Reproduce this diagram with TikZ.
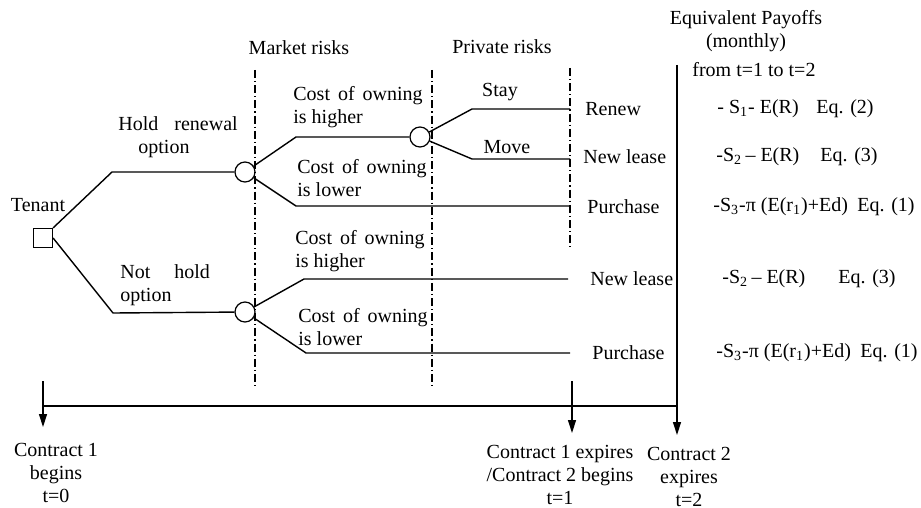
\documentclass[tikz,border=0pt]{standalone}
\usepackage{fontspec}
\setmainfont{Liberation Serif}
\usetikzlibrary{arrows.meta, positioning}

\begin{document}
\begin{tikzpicture}[
    x=0.5pt, y=-0.5pt,
    font=\fontsize{10}{11.5}\selectfont,
    txt/.style = {inner sep=0pt, align=left, anchor=west},
    ctxt/.style = {inner sep=0pt, align=center},
    decision/.style = {rectangle, draw, line width=0.6pt, minimum size=9.5pt, inner sep=0pt},
    chance/.style = {circle, draw, line width=0.6pt, minimum size=10pt, inner sep=0pt},
    branch/.style = {line width=0.7pt},
    divider/.style = {line width=0.6pt, dash pattern=on 4pt off 1.5pt on 0.6pt off 1.5pt},
    arrow/.style = {-{Triangle[length=6.5pt, width=4pt]}, line width=0.7pt}
]
\useasboundingbox (0,0) rectangle (921,508);

% Cabeceras
\node[ctxt] (payoffs) at (746,31) {Equivalent Payoffs\\(monthly)};
\node[txt] (period) at (692,70) {from t=1 to t=2};
\node[ctxt] (market) at (299,48) {Market risks};
\node[ctxt] (private) at (502,47) {Private risks};

% Separadores
\draw[divider] (255,70) -- (255,388);
\draw[divider] (432,70) -- (432,388);
\draw[divider] (570,68) -- (570,250);

% Nodos de decision
\node[decision] (tenant) at (43,238) {};
\node[ctxt] (tenantlbl) at (38,205) {Tenant};
\node[chance] (mkt1) at (245,172) {};
\node[chance] (mkt2) at (245,312) {};
\node[chance] (prv) at (420,137) {};

% Puntos de quiebre
\coordinate (hold) at (112,172);
\coordinate (nohold) at (113,313);
\coordinate (hi1) at (296,137);
\coordinate (lo1) at (296,206);
\coordinate (stay) at (472,109);
\coordinate (move) at (472,159);
\coordinate (hi2) at (304,279);
\coordinate (lo2) at (306,353);
\coordinate (endrenew) at (570,109);
\coordinate (endmove) at (570,159);
\coordinate (endpur1) at (570,206);
\coordinate (endnew2) at (568,279);
\coordinate (endpur2) at (570,353);

% Ramas
\draw[branch] (tenant.north east) -- (hold) -- (mkt1);
\draw[branch] (tenant.east) -- (nohold) -- (mkt2);
\draw[branch] (mkt1) -- (hi1) -- (prv);
\draw[branch] (mkt1) -- (lo1) -- (endpur1);
\draw[branch] (prv) -- (stay) -- (endrenew);
\draw[branch] (prv) -- (move) -- (endmove);
\draw[branch] (mkt2) -- (hi2) -- (endnew2);
\draw[branch] (mkt2) -- (lo2) -- (endpur2);

% Etiquetas de ramas
\node[txt] (holdlbl) at (118,137) {Hold\hspace{0.8em}renewal\\\hspace*{1em}option};
\node[txt] (noholdlbl) at (120,285) {Not\hspace{1.2em}hold\\option};
\node[txt] (hi1lbl) at (293,107) {Cost\hspace{0.4em}of\hspace{0.4em}owning\\is higher};
\node[txt] (lo1lbl) at (297,178) {Cost\hspace{0.4em}of\hspace{0.4em}owning\\is lower};
\node[txt] (hi2lbl) at (295,251) {Cost\hspace{0.4em}of\hspace{0.4em}owning\\is higher};
\node[txt] (lo2lbl) at (298,327) {Cost\hspace{0.4em}of\hspace{0.4em}owning\\is lower};
\node[ctxt] (staylbl) at (500,92) {Stay};
\node[ctxt] (movelbl) at (507,147) {Move};

% Resultados
\node[txt] (renew) at (585,109) {Renew};
\node[txt] (newlease1) at (583,157) {New lease};
\node[txt] (purchase1) at (587,207) {Purchase};
\node[txt] (newlease2) at (590,279) {New lease};
\node[txt] (purchase2) at (592,353) {Purchase};

% Pagos equivalentes
\node[txt] (pay1) at (717,109) {- S\textsubscript{1}- E(R)};
\node[txt] (eq1) at (816,109) {Eq. (2)};
\node[txt] (pay2) at (716,157) {-S\textsubscript{2}\,– E(R)};
\node[txt] (eq2) at (820,157) {Eq. (3)};
\node[txt] (pay3) at (713,207) {-S\textsubscript{3}-π (E(r\textsubscript{1})+Ed)};
\node[txt] (eq3) at (857,207) {Eq. (1)};
\node[txt] (pay4) at (722,279) {-S\textsubscript{2}\,– E(R)};
\node[txt] (eq4) at (838,279) {Eq. (3)};
\node[txt] (pay5) at (716,353) {-S\textsubscript{3}-π (E(r\textsubscript{1})+Ed)};
\node[txt] (eq5) at (860,353) {Eq. (1)};

% Linea de tiempo
\coordinate (t0) at (43,406);
\coordinate (t0top) at (43,381);
\coordinate (t0tip) at (43,427);
\coordinate (t1top) at (572,381);
\coordinate (t1tip) at (572,433);
\coordinate (t2top) at (677,65);
\coordinate (t2) at (677,406);
\coordinate (t2tip) at (677,435);
\draw[line width=0.8pt] (t0) -- (t2);
\draw[arrow] (t0top) -- (t0tip);
\draw[arrow] (t1top) -- (t1tip);
\draw[arrow] (t2top) -- (t2tip);

% Hitos
\node[ctxt] (c1begins) at (56,473) {Contract 1\\begins\\t=0};
\node[ctxt] (c1expires) at (560,475) {Contract 1 expires\\/Contract 2 begins\\t=1};
\node[ctxt] (c2expires) at (689,477) {Contract 2\\expires\\t=2};

\end{tikzpicture}
\end{document}
